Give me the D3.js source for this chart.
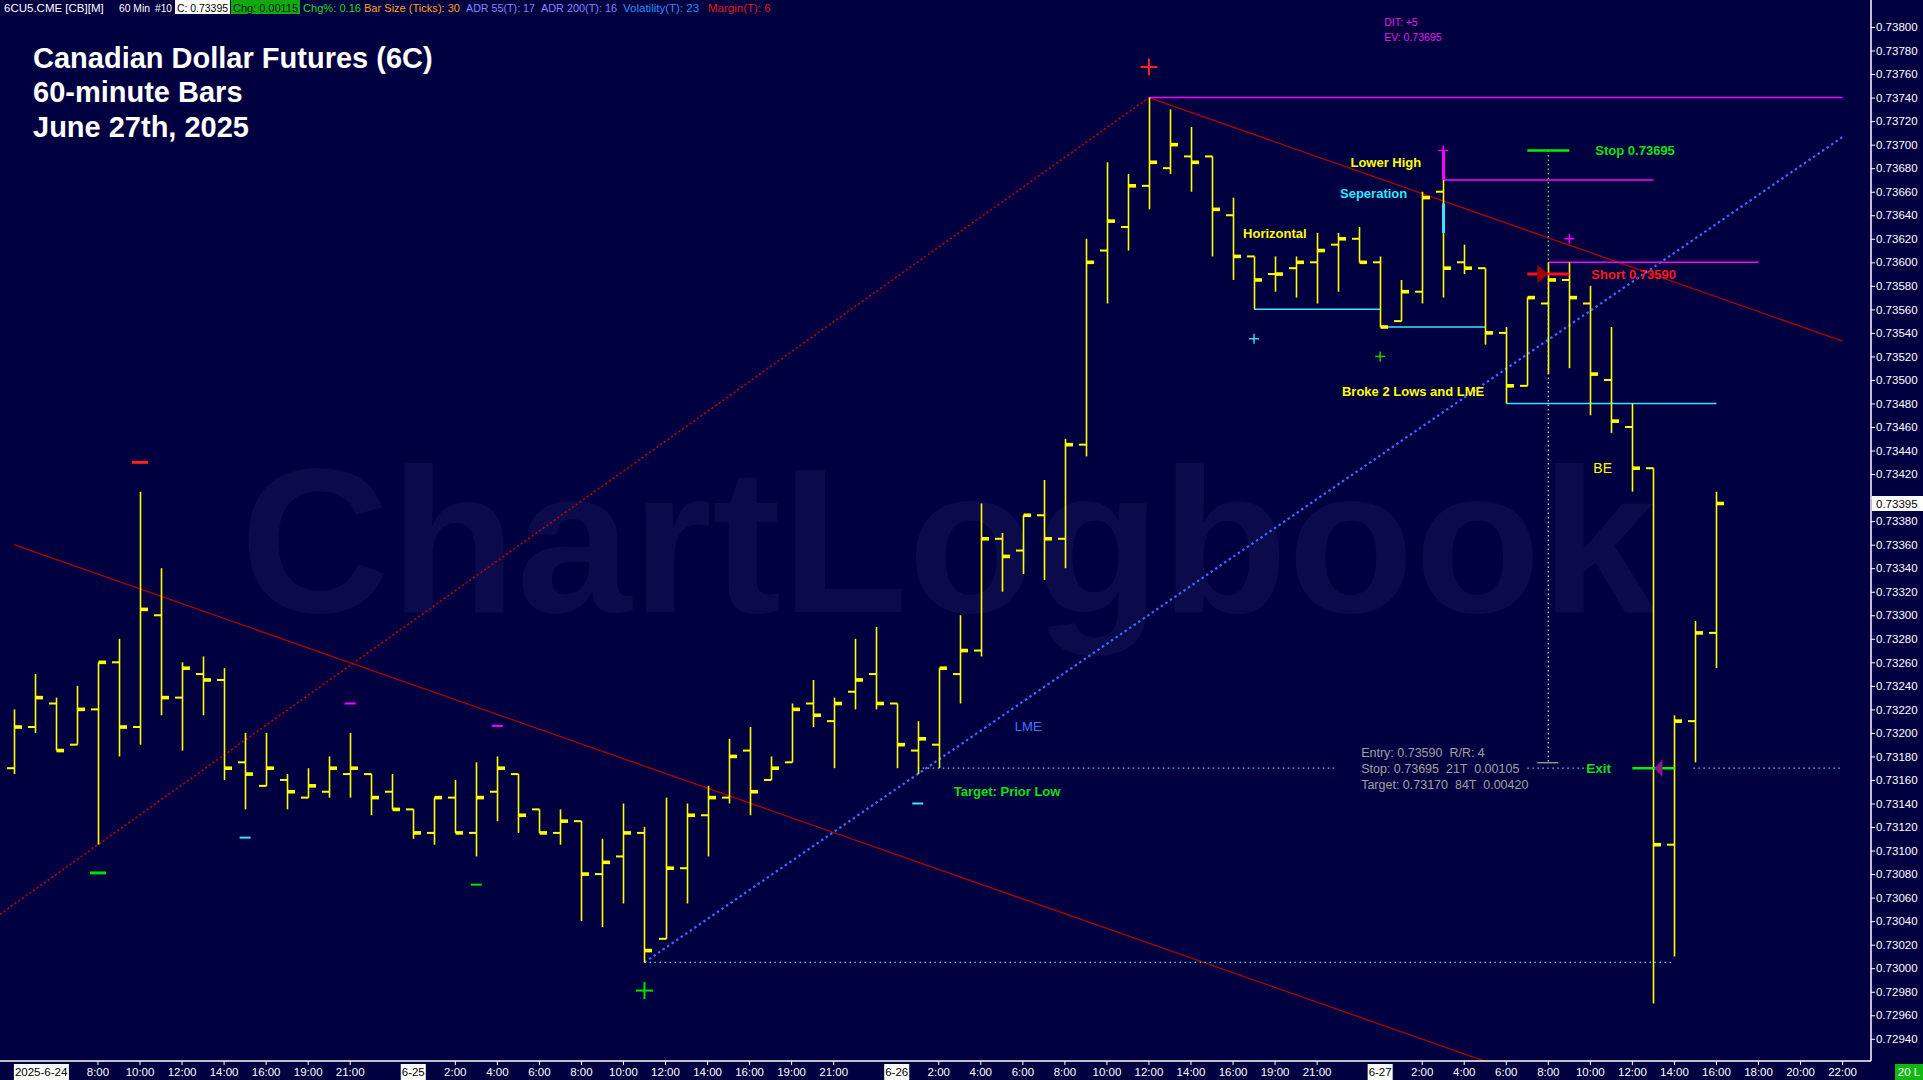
<!DOCTYPE html>
<html><head><meta charset="utf-8">
<script src="https://cdn.jsdelivr.net/npm/d3@7"></script>
<style>
html,body{margin:0;padding:0;background:#000040;overflow:hidden}
svg{display:block}
text{font-family:"Liberation Sans",Arial,sans-serif}
</style></head><body>
<svg id="c" width="1923" height="1080"></svg>
<script>
// ---------------- DATA ----------------
const barTimes = [
 "6-24 04:00","6-24 05:00","6-24 06:00","6-24 07:00","6-24 08:00","6-24 09:00","6-24 10:00","6-24 11:00","6-24 12:00","6-24 13:00","6-24 14:00","6-24 15:00","6-24 16:00","6-24 18:00","6-24 19:00","6-24 20:00","6-24 21:00","6-24 22:00","6-24 23:00",
 "6-25 00:00","6-25 01:00","6-25 02:00","6-25 03:00","6-25 04:00","6-25 05:00","6-25 06:00","6-25 07:00","6-25 08:00","6-25 09:00","6-25 10:00","6-25 11:00","6-25 12:00","6-25 13:00","6-25 14:00","6-25 15:00","6-25 16:00","6-25 18:00","6-25 19:00","6-25 20:00","6-25 21:00","6-25 22:00","6-25 23:00",
 "6-26 00:00","6-26 01:00","6-26 02:00","6-26 03:00","6-26 04:00","6-26 05:00","6-26 06:00","6-26 07:00","6-26 08:00","6-26 09:00","6-26 10:00","6-26 11:00","6-26 12:00","6-26 13:00","6-26 14:00","6-26 15:00","6-26 16:00","6-26 18:00","6-26 19:00","6-26 20:00","6-26 21:00","6-26 22:00","6-26 23:00",
 "6-27 00:00","6-27 01:00","6-27 02:00","6-27 03:00","6-27 04:00","6-27 05:00","6-27 06:00","6-27 07:00","6-27 08:00","6-27 09:00","6-27 10:00","6-27 11:00","6-27 12:00","6-27 13:00","6-27 14:00","6-27 15:00","6-27 16:00"
];
const futureSlots = ["6-27 17:00","6-27 18:00","6-27 19:00","6-27 20:00","6-27 21:00","6-27 22:00"];

const opens = [
 .73170,.73205,.73225,.73190,.73220,.73260,.73205,.73300,.73230,.73250,.73245,.73175,.73155,.73160,.73145,.73150,.73165,.73165,.73150,
 .73135,.73115,.73145,.73115,.73150,.73165,.73135,.73115,.73125,.73080,.73095,.73115,.73025,.73085,.73130,.73145,.73185,.73160,.73175,.73225,.73210,.73235,.73250,
 .73225,.73185,.73190,.73250,.73270,.73365,.73355,.73385,.73365,.73445,.73610,.73630,.73665,.73680,.73690,.73690,.73640,.73605,.73590,.73595,.73600,.73615,.73620,
 .73600,.73550,.73575,.73660,.73600,.73595,.73540,.73495,.73565,.73585,.73565,.73500,.73460,.73425,.73105,.73210,.73285
];
const highs = [
 .73220,.73250,.73230,.73240,.73260,.73280,.73405,.73340,.73260,.73265,.73255,.73200,.73200,.73165,.73170,.73180,.73200,.73165,.73165,
 .73135,.73145,.73160,.73175,.73180,.73165,.73135,.73135,.73125,.73110,.73140,.73120,.73145,.73140,.73155,.73195,.73205,.73180,.73225,.73245,.73230,.73280,.73290,
 .73225,.73210,.73255,.73300,.73395,.73370,.73385,.73415,.73450,.73620,.73685,.73675,.73740,.73730,.73715,.73690,.73655,.73605,.73605,.73605,.73625,.73625,.73630,
 .73605,.73585,.73660,.73695,.73615,.73595,.73545,.73570,.73600,.73600,.73580,.73545,.73480,.73425,.73215,.73295,.73405
];
const lows = [
 .73165,.73200,.73185,.73190,.73105,.73180,.73190,.73215,.73185,.73215,.73160,.73135,.73155,.73135,.73145,.73145,.73145,.73130,.73135,
 .73110,.73105,.73115,.73095,.73125,.73115,.73115,.73105,.73040,.73035,.73055,.73005,.73025,.73055,.73095,.73140,.73130,.73160,.73175,.73205,.73170,.73220,.73220,
 .73170,.73165,.73170,.73225,.73265,.73320,.73335,.73330,.73340,.73435,.73565,.73610,.73645,.73675,.73660,.73605,.73585,.73560,.73575,.73570,.73565,.73575,.73600,
 .73545,.73550,.73565,.73570,.73590,.73530,.73480,.73495,.73505,.73510,.73470,.73455,.73405,.72970,.73010,.73175,.73255
];
const closes = [
 .73205,.73230,.73185,.73220,.73260,.73205,.73305,.73230,.73255,.73245,.73170,.73165,.73170,.73150,.73155,.73170,.73170,.73145,.73135,
 .73115,.73145,.73115,.73145,.73170,.73130,.73115,.73125,.73080,.73090,.73115,.73015,.73085,.73130,.73145,.73180,.73150,.73170,.73220,.73215,.73225,.73245,.73225,
 .73190,.73195,.73255,.73270,.73365,.73350,.73385,.73365,.73445,.73600,.73635,.73665,.73685,.73700,.73685,.73645,.73605,.73585,.73590,.73600,.73610,.73620,.73600,
 .73545,.73575,.73655,.73595,.73595,.73540,.73495,.73570,.73585,.73570,.73505,.73465,.73425,.73105,.73210,.73285,.73395
];

const priceTicks = [0.73800,0.73780,0.73760,0.73740,0.73720,0.73700,0.73680,0.73660,0.73640,0.73620,0.73600,0.73580,0.73560,0.73540,0.73520,0.73500,0.73480,0.73460,0.73440,0.73420,0.73400,0.73380,0.73360,0.73340,0.73320,0.73300,0.73280,0.73260,0.73240,0.73220,0.73200,0.73180,0.73160,0.73140,0.73120,0.73100,0.73080,0.73060,0.73040,0.73020,0.73000,0.72980,0.72960,0.72940];

const timeTickSlots = ["6-24 08:00","6-24 10:00","6-24 12:00","6-24 14:00","6-24 16:00","6-24 19:00","6-24 21:00","6-25 02:00","6-25 04:00","6-25 06:00","6-25 08:00","6-25 10:00","6-25 12:00","6-25 14:00","6-25 16:00","6-25 19:00","6-25 21:00","6-26 02:00","6-26 04:00","6-26 06:00","6-26 08:00","6-26 10:00","6-26 12:00","6-26 14:00","6-26 16:00","6-26 19:00","6-26 21:00","6-27 02:00","6-27 04:00","6-27 06:00","6-27 08:00","6-27 10:00","6-27 12:00","6-27 14:00","6-27 16:00","6-27 18:00","6-27 20:00","6-27 22:00"];
const timeTickLabels = ["8:00","10:00","12:00","14:00","16:00","19:00","21:00","2:00","4:00","6:00","8:00","10:00","12:00","14:00","16:00","19:00","21:00","2:00","4:00","6:00","8:00","10:00","12:00","14:00","16:00","19:00","21:00","2:00","4:00","6:00","8:00","10:00","12:00","14:00","16:00","18:00","20:00","22:00"];
const dateTickSlots = ["6-24 04:00","6-25 00:00","6-26 00:00","6-27 00:00"];
const dateTickLabels = ["2025-6-24","6-25","6-26","6-27"];

const lastPrice = 0.73395;

// trend line anchors: [time A, price A, time B, price B]
const lowToHighLine = ["6-24 08:00",0.73105,"6-26 12:00",0.73740];
const channelTopLine = ["6-26 12:00",0.73740,"6-27 22:00",0.73533];
const channelBottomStart = ["6-24 04:00",0.73360];
const lmeLine = ["6-25 11:00",0.73005,"6-26 01:00",0.73165];

// horizontal levels: [from, to, price]
const magentaLevels = [["6-26 12:00","6-27 22:00",0.73740],["6-27 03:00","6-27 13:00",0.73670],["6-27 08:00","6-27 18:00",0.73600]];
const cyanLevels = [["6-26 18:00","6-27 00:00",0.73560],["6-27 00:00","6-27 05:00",0.73545],["6-27 06:00","6-27 16:00",0.73480]];
const lowDotted = ["6-25 11:00","6-27 14:00",0.73005];
const targetPrice = 0.73170, entryPrice = 0.73590, stopPrice = 0.73695;
const targetDottedSpans = [["6-26 01:00",62.85],[72,75.3],[79.9,"6-27 22:00"]];
const tradeTime = "6-27 08:00", exitTime = "6-27 13:00";

// markers: [time, price, colour key, half size]
const plusMarkers = [["6-26 12:00",0.73766,"red",8.5],["6-25 11:00",0.72981,"green",8.5],["6-26 18:00",0.73535,"cyan",5],["6-27 00:00",0.73520,"green",5],["6-27 03:00",0.73695,"magenta",5],["6-27 09:00",0.73620,"magenta",5]];
const dashMarkers = [["6-24 10:00",0.73430,"red",16],["6-24 08:00",0.73081,"green",16],["6-24 15:00",0.73111,"cyan",11],["6-24 21:00",0.73225,"magenta",11],["6-25 04:00",0.73206,"magenta",11],["6-25 03:00",0.73071,"green",11],["6-26 01:00",0.73140,"cyan",11]];

// text notes: [text, time, price]
const notes = [
 ["Lower High","6-27 03:00",0.73685],
 ["Seperation","6-27 03:00",0.73659],
 ["Horizontal","6-26 18:00",0.73625],
 ["Broke 2 Lows and LME","6-27 05:00",0.73490],
 ["LME","6-26 06:00",0.73206],
 ["Target: Prior Low","6-26 03:00",0.73150],
 ["Stop 0.73695","6-27 10:00",0.73695],
 ["Short 0.73590","6-27 10:00",0.73590],
 ["BE","6-27 10:00",0.73425],
 ["Exit","6-27 10:00",0.73170]
];
const tradeInfo = ["Entry: 0.73590  R/R: 4","Stop: 0.73695  21T  0.00105","Target: 0.73170  84T  0.00420"];
const ditInfo = ["DIT: +5","EV: 0.73695"];
const titleLines = ["Canadian Dollar Futures (6C)","60-minute Bars","June 27th, 2025"];
const headerItems = ["6CU5.CME [CB][M]","60 Min","#10","C: 0.73395","Chg: 0.00115","Chg%: 0.16","Bar Size (Ticks): 30","ADR 55(T): 17","ADR 200(T): 16","Volatility(T): 23","Margin(T): 6"];

// ---------------- DRAW ----------------
const svg = d3.select("#c");
const W = 1923, H = 1080;
const plotRight = 1871, plotBottom = 1061, plotTop = 14;
const BG = "#000040";
svg.append("rect").attr("width",W).attr("height",H).attr("fill",BG);

const slots = barTimes.concat(futureSlots);
const x = d3.scalePoint().domain(slots).range([13.9, 1842.6]);
const xi = d3.scaleLinear().domain([0, slots.length-1]).range([13.9, 1842.6]);
const y = d3.scaleLinear().domain([0.7294, 0.738]).range([1038.8, 27]);
const idx = t => typeof t === "number" ? t : slots.indexOf(t);
const X = t => xi(idx(t));

const COL = {red:"#ff2020", green:"#00e000", cyan:"#40e0ff", magenta:"#ff00ff", yellow:"#ffff00"};

// watermark
svg.append("text").text("ChartLogbook").attr("x",240).attr("y",612)
  .attr("font-size",206).attr("font-weight","bold").attr("fill","#0b0b4c")
  .attr("textLength",1416).attr("lengthAdjust","spacingAndGlyphs");

svg.append("clipPath").attr("id","clip").append("rect")
  .attr("x",0).attr("y",plotTop).attr("width",plotRight).attr("height",plotBottom-plotTop);
const g = svg.append("g").attr("clip-path","url(#clip)");

function lineVal(a, i){
  const i1 = idx(a[0]), i2 = idx(a[2]);
  return a[1] + (a[3]-a[1])*(i - i1)/(i2 - i1);
}
function seg(i0, i1, p0, p1, stroke, w, dash){
  g.append("line").attr("x1",xi(i0)).attr("x2",xi(i1)).attr("y1",y(p0)).attr("y2",y(p1))
    .attr("stroke",stroke).attr("stroke-width",w).attr("stroke-dasharray",dash||null);
}

{
  const i0 = xi.invert(0), i1 = idx(lowToHighLine[2]);
  seg(i0, i1, lineVal(lowToHighLine,i0), lineVal(lowToHighLine,i1), "#c00000", 1.6, "2,2.5");
}
{
  const i0 = idx(channelTopLine[0]), i1 = idx(channelTopLine[2]);
  seg(i0, i1, channelTopLine[1], channelTopLine[3], "#b00000", 1.3);
  const slope = (channelTopLine[3]-channelTopLine[1])/(i1-i0);
  const j0 = idx(channelBottomStart[0]), j1 = slots.length-1;
  seg(j0, j1, channelBottomStart[1], channelBottomStart[1] + slope*(j1-j0), "#b00000", 1.3);
}
{
  const i0 = idx(lmeLine[0]), i1 = slots.length-1;
  seg(i0, i1, lmeLine[1], lineVal(lmeLine,i1), "#3a6cff", 2.2, "2.5,3");
}
seg(idx(lowDotted[0]), idx(lowDotted[1]), lowDotted[2], lowDotted[2], COL.cyan, 1.3, "1.5,3.5");
targetDottedSpans.forEach(s => seg(idx(s[0]), idx(s[1]), targetPrice, targetPrice, COL.cyan, 1.3, "1.5,3.5"));

magentaLevels.forEach(l => seg(idx(l[0]), idx(l[1]), l[2], l[2], COL.magenta, 1.5));
cyanLevels.forEach(l => seg(idx(l[0]), idx(l[1]), l[2], l[2], COL.cyan, 1.5));

{
  const tx = X(tradeTime);
  g.append("line").attr("x1",tx).attr("x2",tx).attr("y1",y(stopPrice)).attr("y2",y(entryPrice))
    .attr("stroke","#30ff30").attr("stroke-width",1.3).attr("stroke-dasharray","1.5,3");
  g.append("line").attr("x1",tx).attr("x2",tx).attr("y1",y(entryPrice)).attr("y2",y(targetPrice)-6)
    .attr("stroke","#c8c8c8").attr("stroke-width",1.3).attr("stroke-dasharray","1.5,3");
  g.append("line").attr("x1",tx-11).attr("x2",tx+10).attr("y1",y(targetPrice)-5.5).attr("y2",y(targetPrice)-5.5)
    .attr("stroke","#a0a0a0").attr("stroke-width",1.3);
}

// OHLC bars
const bars = g.append("g");
barTimes.forEach((t,i) => {
  const bx = Math.round(x(t)) + 0.5;
  bars.append("line").attr("x1",bx).attr("x2",bx).attr("y1",y(highs[i])).attr("y2",y(lows[i]))
    .attr("stroke",COL.yellow).attr("stroke-width",1.6);
  bars.append("rect").attr("x",bx-7.5).attr("y",y(opens[i])-1).attr("width",7.5).attr("height",2).attr("fill",COL.yellow);
  bars.append("rect").attr("x",bx).attr("y",y(closes[i])-1.8).attr("width",7.5).attr("height",3.6).attr("fill",COL.yellow);
});

{
  const bx = Math.round(X("6-27 03:00")) + 0.5;
  g.append("line").attr("x1",bx).attr("x2",bx).attr("y1",y(0.73694)).attr("y2",y(0.73670)).attr("stroke",COL.magenta).attr("stroke-width",3);
  g.append("line").attr("x1",bx).attr("x2",bx).attr("y1",y(0.73650)).attr("y2",y(0.73625)).attr("stroke",COL.cyan).attr("stroke-width",3);
}

{
  const i = idx(tradeTime);
  seg(i-1, i+1, stopPrice, stopPrice, "#00f000", 2.5);
  seg(i-1, i+1, entryPrice, entryPrice, "#ff1010", 3);
  const tx = X(tradeTime), ty = y(entryPrice);
  g.append("path").attr("d",`M${tx},${ty} L${tx-11},${ty-9} L${tx-11},${ty+9} Z`).attr("fill","#a00000");
  const e = idx(exitTime);
  seg(e-1, e+1, targetPrice, targetPrice, "#00f000", 2.5);
  const ex = X(exitTime), ey = y(targetPrice);
  g.append("path").attr("d",`M${ex+1},${ey} L${ex+9},${ey-9} L${ex+9},${ey+9} Z`).attr("fill","#8a1a8a");
}

plusMarkers.forEach(m => {
  const cx = X(m[0]), cy = y(m[1]), r = m[3], sw = r > 6 ? 2 : 1.4;
  g.append("line").attr("x1",cx-r).attr("x2",cx+r).attr("y1",cy).attr("y2",cy).attr("stroke",COL[m[2]]).attr("stroke-width",sw);
  g.append("line").attr("x1",cx).attr("x2",cx).attr("y1",cy-r).attr("y2",cy+r).attr("stroke",COL[m[2]]).attr("stroke-width",sw);
});
dashMarkers.forEach(m => {
  const cx = X(m[0]), cy = y(m[1]), w = m[3];
  g.append("rect").attr("x",cx-w/2).attr("y",cy-(w>12?1.5:1)).attr("width",w).attr("height",w>12?3:2).attr("fill",COL[m[2]]);
});

const noteStyle = {
  "Lower High":{fill:"#ffff00",bold:true,anchor:"end",dx:-22,size:13},
  "Seperation":{fill:"#30e8ff",bold:true,anchor:"end",dx:-36,size:13},
  "Horizontal":{fill:"#ffff00",bold:true,anchor:"start",dx:-11,size:13},
  "Broke 2 Lows and LME":{fill:"#ffff00",bold:true,anchor:"end",dx:-1,size:13},
  "LME":{fill:"#3a78ff",bold:false,anchor:"start",dx:-8,size:13},
  "Target: Prior Low":{fill:"#10e010",bold:true,anchor:"start",dx:-6,size:13},
  "Stop 0.73695":{fill:"#10e010",bold:true,anchor:"start",dx:5,size:13},
  "Short 0.73590":{fill:"#ff1818",bold:true,anchor:"start",dx:1,size:13},
  "BE":{fill:"#ffff00",bold:false,anchor:"start",dx:3,size:14},
  "Exit":{fill:"#10e010",bold:true,anchor:"start",dx:-4,size:13.5}
};
notes.forEach(n => {
  const s = noteStyle[n[0]];
  g.append("text").text(n[0]).attr("x",X(n[1])+s.dx).attr("y",y(n[2]))
    .attr("dy","0.36em").attr("text-anchor",s.anchor).attr("font-size",s.size)
    .attr("font-weight",s.bold?"bold":"normal").attr("fill",s.fill);
});

{
  const bx = X("6-26 23:00") + 2;
  tradeInfo.forEach((t,k) => {
    g.append("text").text(t).attr("x",bx).attr("y",y(targetPrice) + (k-1)*15.8)
      .attr("dy","0.36em").attr("font-size",12.5).attr("fill","#a0a0a0").style("white-space","pre");
  });
}
ditInfo.forEach((t,k) => {
  svg.append("text").text(t).attr("x",X("6-27 00:00")+4).attr("y",22.7 + k*15)
    .attr("dy","0.36em").attr("font-size",10.5).attr("fill","#e020e0");
});

titleLines.forEach((t,k) => {
  svg.append("text").text(t).attr("x",33).attr("y",68 + k*34.3)
    .attr("font-size",29).attr("font-weight","bold").attr("fill","#ffffff");
});

// header strip
const headerLayout = [
  {x:4,w:104,c:"#ffffff"},
  {x:119,w:31,c:"#ffffff"},
  {x:155,w:17,c:"#ffffff"},
  {x:177,w:51,c:"#000000",box:"#ffffff",bx:175,bw:55},
  {x:233,w:65,c:"#002000",box:"#12a812",bx:231,bw:69},
  {x:303,w:58,c:"#22d822"},
  {x:364,w:96,c:"#ffa020"},
  {x:466,w:69,c:"#8484ff"},
  {x:541,w:76,c:"#8484ff"},
  {x:623,w:79,c:"#2890ff"},
  {x:708,w:64,c:"#e01818"}
];
headerItems.forEach((t,k) => {
  const h = headerLayout[k];
  if (h.box) svg.append("rect").attr("x",h.bx).attr("y",0).attr("width",h.bw).attr("height",14).attr("fill",h.box);
  const el = svg.append("text").text(t).attr("x",h.x).attr("y",11.5).attr("font-size",11.5).attr("fill",h.c);
  const len = el.node().getComputedTextLength();
  if (len > h.w) el.attr("textLength",h.w).attr("lengthAdjust","spacingAndGlyphs");
});

svg.append("line").attr("x1",0).attr("x2",plotRight).attr("y1",plotBottom).attr("y2",plotBottom).attr("stroke","#ffffff").attr("stroke-width",1.5);
svg.append("line").attr("x1",plotRight).attr("x2",plotRight).attr("y1",0).attr("y2",plotBottom).attr("stroke","#ffffff").attr("stroke-width",1.5);

const ya = svg.append("g").attr("transform",`translate(${plotRight},0)`)
  .call(d3.axisRight(y).tickValues(priceTicks).tickSize(4).tickPadding(1)
    .tickFormat(d => Math.abs(d - lastPrice) < 0.00008 ? "" : d3.format(".5f")(d)));
ya.select(".domain").remove();
ya.selectAll("line").attr("stroke","#ffffff");
ya.selectAll("text").attr("fill","#ffffff").attr("font-size",11.5).attr("font-family","Liberation Sans, Arial, sans-serif");
{
  const ly = y(lastPrice);
  svg.append("rect").attr("x",plotRight+1).attr("y",ly-7.5).attr("width",W-plotRight-1).attr("height",15).attr("fill","#ffffff");
  svg.append("text").text(d3.format(".5f")(lastPrice)).attr("x",plotRight+5).attr("y",ly).attr("dy","0.36em")
    .attr("font-size",11.5).attr("fill","#000000");
}

const xa = svg.append("g");
timeTickSlots.forEach((s,k) => {
  const tx = X(s);
  xa.append("line").attr("x1",tx).attr("x2",tx).attr("y1",plotBottom).attr("y2",plotBottom+4).attr("stroke","#ffffff");
  xa.append("text").text(timeTickLabels[k]).attr("x",tx).attr("y",1076).attr("text-anchor","middle")
    .attr("font-size",11.5).attr("fill","#ffffff");
});
dateTickSlots.forEach((s,k) => {
  const tx = X(s);
  const first = k === 0;
  const t = xa.append("text").text(dateTickLabels[k]).attr("x",first?tx+1:tx).attr("y",1076)
    .attr("text-anchor",first?"start":"middle").attr("font-size",11.5).attr("fill","#000000");
  const bb = t.node().getBBox();
  xa.insert("rect","text").attr("x",bb.x-1).attr("y",1064).attr("width",bb.width+2).attr("height",16).attr("fill","#ffffff");
});
svg.append("rect").attr("x",1895).attr("y",1064).attr("width",28).attr("height",16).attr("fill","#12b812");
svg.append("text").text("20 L").attr("x",1909).attr("y",1076).attr("text-anchor","middle").attr("font-size",11.5).attr("fill","#ffffff");
</script>
</body></html>
